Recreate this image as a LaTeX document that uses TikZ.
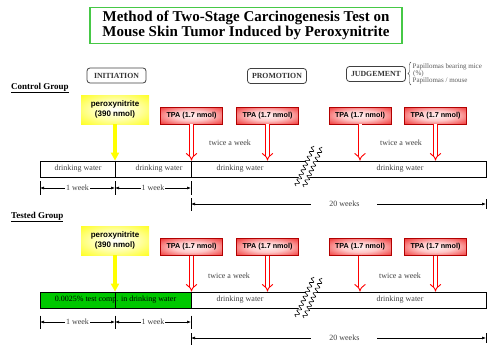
\documentclass[tikz,border=0pt]{standalone}
\usepackage{fontspec}
\setmainfont{Liberation Serif}
\setsansfont{Liberation Sans}
\usetikzlibrary{positioning,arrows.meta,calc,shadows,decorations.pathmorphing,decorations.pathreplacing}
\definecolor{titlegreen}{RGB}{70,200,70}
\definecolor{testgreen}{RGB}{0,200,0}
\definecolor{tpared}{RGB}{240,50,50}
\definecolor{perox}{RGB}{255,255,0}
\pgfdeclareradialshading{tpashade}{\pgfpoint{0bp}{0bp}}{color(0bp)=(red!6); color(15bp)=(red!22); color(36bp)=(tpared); color(50bp)=(tpared)}
\pgfdeclareradialshading{peroxshade}{\pgfpoint{0bp}{0bp}}{color(0bp)=(white); color(18bp)=(perox!35); color(40bp)=(perox); color(50bp)=(perox)}

\begin{document}
\begin{tikzpicture}[
  x=1pt, y=-1pt,
  >={Latex[length=4pt,width=3pt]},
  titlebox/.style={
    draw=titlegreen, line width=1.2pt, minimum width=312pt, minimum height=33pt,
    align=center, font=\fontsize{15}{15}\selectfont\bfseries
  },
  phase/.style={
    draw=black!75, line width=0.8pt, rounded corners=3pt, minimum width=59pt,
    minimum height=15pt, inner sep=1pt, text=black!80, font=\fontsize{7.8}{9}\selectfont\bfseries
  },
  group/.style={font=\fontsize{9}{10}\selectfont\bfseries, anchor=west, inner sep=0pt},
  perbox/.style={
    shading=peroxshade, text=black, minimum width=68pt, minimum height=29pt,
    align=center, font=\sffamily\bfseries\fontsize{8}{10}\selectfont
  },
  tpabox/.style={
    shading=tpashade, text=black, draw=red!70!black, line width=0.3pt,
    drop shadow={shadow xshift=0.8pt, shadow yshift=-0.8pt, fill=red!40!black, opacity=0.5},
    minimum width=62pt, minimum height=17pt, inner sep=1pt, font=\sffamily\bfseries\fontsize{7.2}{8}\selectfont
  },
  bar/.style={draw, line width=0.8pt, minimum height=16pt, inner sep=0pt},
  note/.style={font=\fontsize{8}{9}\selectfont, text=black!75, inner sep=1pt},
  papnote/.style={font=\fontsize{7}{8}\selectfont, text=black!65, inner sep=0pt, anchor=west},
  tpaarrow/.style={draw=red, double=white, double distance=3pt, line width=0.9pt, -{Implies}},
  peroxarrow/.style={draw=perox, line width=4pt, -{Triangle[length=8pt,width=8pt]}},
  dim/.style={<->, line width=0.6pt},
  breakline/.style={decorate, decoration={snake, segment length=5pt, amplitude=2pt}, line width=0.6pt}
]
\useasboundingbox (0,0) rectangle (490,345);

\node[titlebox] (title) at (246,25.5) {Method of Two-Stage Carcinogenesis Test on\\Mouse Skin Tumor Induced by Peroxynitrite};

\node[phase] (initiation) at (116.5,75.5) {INITIATION};
\node[phase] (promotion) at (277,76) {PROMOTION};
\node[phase] (judgement) at (376,74) {JUDGEMENT};
\draw[decorate, decoration={brace, amplitude=3pt}, black!75] (411,85) -- (411,62);
\node[papnote] (pap1) at (412.5,66.5) {Papillomas bearing mice};
\node[papnote] (pap2) at (413,73.5) {(\%)};
\node[papnote] (pap3) at (412.5,80.5) {Papillomas / mouse};

% control group
\node[group] (control) at (11,88) {\underline{Control Group}};
\node[perbox] (cperox) at (115,109.5) {peroxynitrite\\(390 nmol)};
\node[tpabox] (ctpa1) at (191.5,115.5) {TPA (1.7 nmol)};
\node[tpabox] (ctpa2) at (267.5,115.5) {TPA (1.7 nmol)};
\node[tpabox] (ctpa3) at (360,115.5) {TPA (1.7 nmol)};
\node[tpabox] (ctpa4) at (435.5,115.5) {TPA (1.7 nmol)};
\node[bar, minimum width=151pt] (cbarA) at (115.5,169) {};
\node[bar, minimum width=295pt] (cbarB) at (338.5,169) {};
\draw[line width=0.8pt] (cbarA.north -| cperox) -- (cbarA.south -| cperox);
\node[note] (cdw1) at (78,169) {drinking water};
\node[note] (cdw2) at (159,169) {drinking water};
\node[note] (cdw3) at (240,169) {drinking water};
\node[note] (cdw4) at (400,169) {drinking water};
\node[note] (ctw1) at (230,143) {twice a week};
\node[note] (ctw2) at (401,143) {twice a week};
\draw[peroxarrow] (cperox) -- (cperox |- cbarA.north);
\draw[tpaarrow] (ctpa1) -- (ctpa1 |- cbarA.north);
\draw[tpaarrow] (ctpa2) -- (ctpa2 |- cbarB.north);
\draw[tpaarrow] (ctpa3) -- (ctpa3 |- cbarB.north);
\draw[tpaarrow] (ctpa4) -- (ctpa4 |- cbarB.north);
\fill[white] (295,186) -- (313,146) -- (323,147) -- (305,187) -- cycle;
\draw[breakline] (296,186) -- (314,146);
\draw[breakline] (304,187) -- (322,147);
\coordinate (cd0) at (40,188);
\coordinate (cd1) at (115,188);
\coordinate (cd2) at (191,188);
\coordinate (cd3) at (191,204);
\coordinate (cd4) at (486,204);
\draw[line width=0.6pt] (cd0) ++(0,-7) -- ++(0,14);
\draw[line width=0.6pt] (cd1) ++(0,-7) -- ++(0,14);
\draw[line width=0.6pt] (cd2) ++(0,-7) -- ++(0,14);
\draw[line width=0.6pt] (cd3) ++(0,-6) -- ++(0,13);
\draw[line width=0.6pt] (cd4) ++(0,-5) -- ++(0,10);
\draw[dim] (cd0) -- (cd1) node[note, midway, fill=white] {1 week};
\draw[dim] (cd1) -- (cd2) node[note, midway, fill=white] {1 week};
\draw[dim] (cd3) -- (cd4) node[note, pos=0.52, fill=white, inner xsep=18pt] {20 weeks};

% tested group
\node[group] (tested) at (11,217) {\underline{Tested Group}};
\node[perbox] (tperox) at (115,240.5) {peroxynitrite\\(390 nmol)};
\node[tpabox] (ttpa1) at (191.5,247) {TPA (1.7 nmol)};
\node[tpabox] (ttpa2) at (267.5,247) {TPA (1.7 nmol)};
\node[tpabox] (ttpa3) at (360,247) {TPA (1.7 nmol)};
\node[tpabox] (ttpa4) at (435.5,247) {TPA (1.7 nmol)};
\node[bar, fill=testgreen, minimum width=151pt, font=\fontsize{8}{9}\selectfont] (tbarA) at (115.5,300) {0.0025\% test comp. in drinking water};
\node[bar, minimum width=295pt] (tbarB) at (338.5,300) {};
\draw[line width=0.8pt] (tbarA.north -| tperox) -- (tbarA.south -| tperox);
\node[note] (tdw3) at (240,300) {drinking water};
\node[note] (tdw4) at (400,300) {drinking water};
\node[note] (ttw1) at (229,276) {twice a week};
\node[note] (ttw2) at (400,276) {twice a week};
\draw[peroxarrow] (tperox) -- (tperox |- tbarA.north);
\draw[tpaarrow] (ttpa1) -- (ttpa1 |- tbarA.north);
\draw[tpaarrow] (ttpa2) -- (ttpa2 |- tbarB.north);
\draw[tpaarrow] (ttpa3) -- (ttpa3 |- tbarB.north);
\draw[tpaarrow] (ttpa4) -- (ttpa4 |- tbarB.north);
\fill[white] (295,317) -- (313,277) -- (323,278) -- (305,318) -- cycle;
\draw[breakline] (296,317) -- (314,277);
\draw[breakline] (304,318) -- (322,278);
\coordinate (td0) at (40,322);
\coordinate (td1) at (115,322);
\coordinate (td2) at (191,322);
\coordinate (td3) at (191,338);
\coordinate (td4) at (486,338);
\draw[line width=0.6pt] (td0) ++(0,-6.5) -- ++(0,13);
\draw[line width=0.6pt] (td1) ++(0,-6.5) -- ++(0,13);
\draw[line width=0.6pt] (td2) ++(0,-6.5) -- ++(0,13);
\draw[line width=0.6pt] (td3) ++(0,-5) -- ++(0,12);
\draw[line width=0.6pt] (td4) ++(0,-5) -- ++(0,10);
\draw[dim] (td0) -- (td1) node[note, midway, fill=white] {1 week};
\draw[dim] (td1) -- (td2) node[note, midway, fill=white] {1 week};
\draw[dim] (td3) -- (td4) node[note, pos=0.52, fill=white, inner xsep=18pt] {20 weeks};
\end{tikzpicture}
\end{document}
